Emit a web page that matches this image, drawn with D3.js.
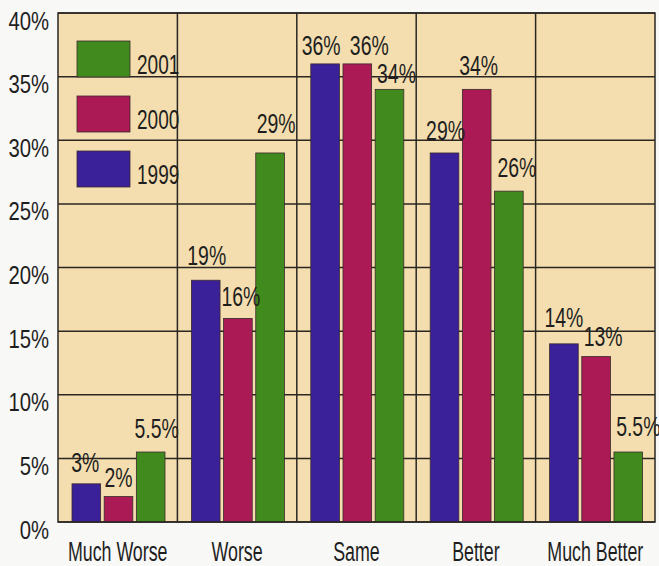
<!DOCTYPE html>
<html>
<head>
<meta charset="utf-8">
<script src="https://cdn.jsdelivr.net/npm/d3@7"></script>
<style>
  html, body { margin: 0; padding: 0; background: #f8f8f6; }
  svg { display: block; }
  text { font-family: "Liberation Sans", Arial, sans-serif; fill: #1e1e1e; }
</style>
</head>
<body>
<svg id="chart" width="659" height="566"></svg>
<script>
// Survey answers by year, in percent
const categories = ["Much Worse", "Worse", "Same", "Better", "Much Better"];
const years = ["1999", "2000", "2001"];
const values1999 = [3, 19, 36, 29, 14];
const values2000 = [2, 16, 36, 34, 13];
const values2001 = [5.5, 29, 34, 26, 5.5];
const valueLabels1999 = ["3%", "19%", "36%", "29%", "14%"];
const valueLabels2000 = ["2%", "16%", "36%", "34%", "13%"];
const valueLabels2001 = ["5.5%", "29%", "34%", "26%", "5.5%"];
const yTicks = [0, 5, 10, 15, 20, 25, 30, 35, 40];
const legendOrder = ["2001", "2000", "1999"];

// hand placement of the value labels: [dx, lift above bar top] in px
const labelNudge1999 = [[-1, 12], [1, 15], [-4, 9], [1, 13], [0, 17]];
const labelNudge2000 = [[0, 10], [3, 12], [12, 9], [2, 14], [7, 11]];
const labelNudge2001 = [[6, 14], [6, 20], [7, 6], [8, 14], [10, 16]];

const seriesValues = { "1999": values1999, "2000": values2000, "2001": values2001 };
const seriesLabels = { "1999": valueLabels1999, "2000": valueLabels2000, "2001": valueLabels2001 };
const seriesNudge = { "1999": labelNudge1999, "2000": labelNudge2000, "2001": labelNudge2001 };
const colors = { "1999": "#3b2199", "2000": "#ab1a55", "2001": "#418a1d" };

const svg = d3.select("#chart");
const plot = { left: 58, right: 655, top: 13, bottom: 522 };
const ink = "#2a2723";

const x = d3.scaleBand().domain(categories).range([plot.left, plot.right]).padding(0);
const x1 = d3.scaleBand().domain(years).range([14, 107]).paddingInner(0.11).paddingOuter(0);
const y = d3.scaleLinear().domain([0, 40]).range([plot.bottom, plot.top]);

// condensed text helper: horizontal squeeze via transform
function condensed(g, px, py, str, size, sx, anchor) {
  return g.append("text")
    .attr("transform", `translate(${px},${py}) scale(${sx},1)`)
    .attr("text-anchor", anchor || "middle")
    .style("font-size", size + "px")
    .text(str);
}

// plot background
svg.append("rect")
  .attr("x", plot.left).attr("y", plot.top)
  .attr("width", plot.right - plot.left).attr("height", plot.bottom - plot.top)
  .attr("fill", "#f4deb0");

// horizontal grid lines
svg.append("g").selectAll("line").data(yTicks).join("line")
  .attr("x1", plot.left).attr("x2", plot.right)
  .attr("y1", d => y(d)).attr("y2", d => y(d))
  .attr("stroke", ink).attr("stroke-width", 1.5);

// vertical category dividers
svg.append("g").selectAll("line").data(categories.slice(1)).join("line")
  .attr("x1", d => x(d)).attr("x2", d => x(d))
  .attr("y1", plot.top).attr("y2", plot.bottom)
  .attr("stroke", ink).attr("stroke-width", 1.5);

// bars
const groups = svg.append("g").selectAll("g").data(categories).join("g")
  .attr("transform", d => `translate(${x(d)},0)`);

groups.each(function(cat, ci) {
  const g = d3.select(this);
  years.forEach(yr => {
    const v = seriesValues[yr][ci];
    g.append("rect")
      .attr("x", x1(yr)).attr("y", y(v))
      .attr("width", x1.bandwidth()).attr("height", y(0) - y(v))
      .attr("fill", colors[yr])
      .attr("stroke", "#3a2a2a").attr("stroke-width", 0.8);
  });
});

// value labels
groups.each(function(cat, ci) {
  const g = d3.select(this);
  years.forEach(yr => {
    const v = seriesValues[yr][ci];
    const [dx, lift] = seriesNudge[yr][ci];
    condensed(g, x1(yr) + x1.bandwidth() / 2 + dx, y(v) - lift, seriesLabels[yr][ci], 27, 0.72);
  });
});

// plot frame
svg.append("rect")
  .attr("x", plot.left).attr("y", plot.top)
  .attr("width", plot.right - plot.left).attr("height", plot.bottom - plot.top)
  .attr("fill", "none").attr("stroke", ink).attr("stroke-width", 1.5);

// y axis
const yAxis = svg.append("g")
  .attr("transform", `translate(${plot.left},0)`)
  .call(d3.axisLeft(y).tickValues(yTicks).tickSize(0).tickFormat(d => d + "%"));
yAxis.select(".domain").remove();
yAxis.selectAll("text")
  .attr("x", 0).attr("dy", null)
  .attr("transform", "translate(-9,16) scale(0.78,1)")
  .attr("text-anchor", "end")
  .style("font-size", "26px")
  .style("font-family", "'Liberation Sans', Arial, sans-serif")
  .attr("fill", "#1e1e1e");

// category labels
const xAxis = svg.append("g");
categories.forEach(c => {
  condensed(xAxis, x(c) + x.bandwidth() / 2, 561, c, 27, 0.66);
});

// legend
const legend = svg.append("g");
legendOrder.forEach((yr, i) => {
  const top = 41 + i * 55;
  legend.append("rect")
    .attr("x", 77).attr("y", top)
    .attr("width", 53).attr("height", 36)
    .attr("fill", colors[yr])
    .attr("stroke", "#3a2a2a").attr("stroke-width", 0.8);
  condensed(legend, 137, top + 33, yr, 28, 0.68, "start");
});
</script>
</body>
</html>
